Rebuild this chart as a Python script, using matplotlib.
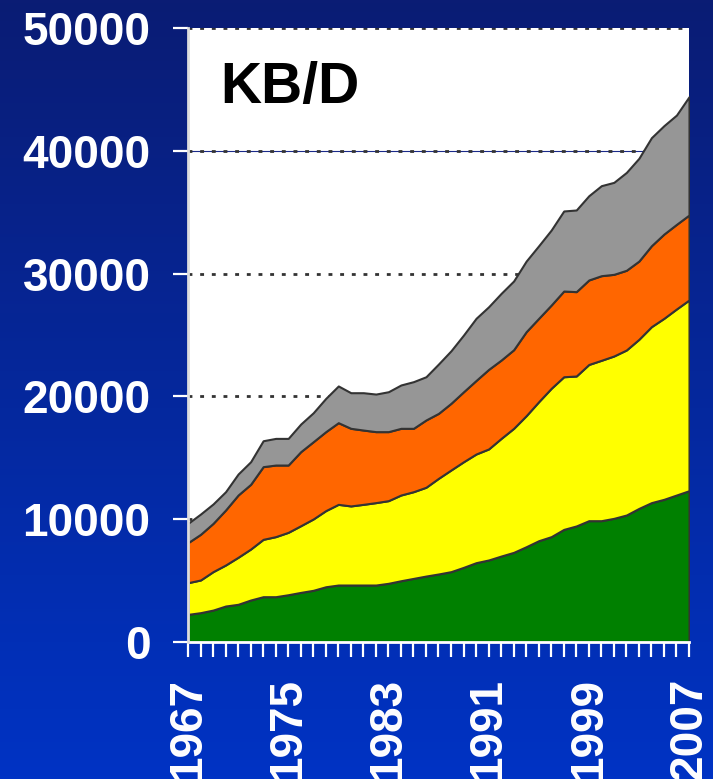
import numpy as np
import matplotlib.pyplot as plt

years = list(range(1967, 2008))

green = [2250, 2390, 2600, 2930, 3070, 3420, 3690, 3690, 3850, 4040,
         4210, 4500, 4640, 4640, 4640, 4640, 4780, 4990, 5180, 5370,
         5540, 5730, 6080, 6460, 6680, 7000, 7300, 7760, 8250, 8580,
         9170, 9450, 9880, 9880, 10070, 10340, 10880, 11350, 11620, 11970,
         12320]
yellow = [2580, 2660, 3130, 3340, 3830, 4150, 4670, 4890, 5080, 5430,
          5810, 6200, 6570, 6440, 6570, 6710, 6730, 6980, 7060, 7230,
          7790, 8280, 8600, 8850, 9040, 9580, 10100, 10670, 11320, 12080,
          12430, 12210, 12720, 13060, 13220, 13440, 13770, 14330, 14740, 15150,
          15530]
orange = [3260, 3720, 3930, 4480, 5070, 5270, 5920, 5830, 5480, 6030,
          6290, 6430, 6650, 6320, 6050, 5780, 5620, 5430, 5160, 5480,
          5290, 5430, 5700, 5990, 6480, 6380, 6400, 6840, 6790, 6780,
          6980, 6870, 6880, 6890, 6650, 6490, 6370, 6590, 6860, 6890,
          6920]
gray = [1570, 1650, 1580, 1490, 1710, 1840, 2110, 2170, 2170, 2250,
        2360, 2710, 2990, 2900, 3040, 3060, 3250, 3530, 3800, 3520,
        4020, 4280, 4620, 5060, 5100, 5430, 5600, 5750, 5910, 6110,
        6520, 6650, 6860, 7330, 7490, 7970, 8370, 8800, 8830, 8900,
        9630]

y_ticks = [0, 10000, 20000, 30000, 40000, 50000]
x_labels = [1967, 1975, 1983, 1991, 1999, 2007]

plt.rcParams['font.family'] = ['Liberation Sans', 'DejaVu Sans']

fig = plt.figure(figsize=(7.13, 7.79), dpi=100)

# background gradient
bg = fig.add_axes([0, 0, 1, 1], zorder=-10)
grad = np.linspace(0, 1, 256).reshape(-1, 1)
top_c = np.array([0x0a, 0x1c, 0x74]) / 255
bot_c = np.array([0x00, 0x33, 0xc4]) / 255
img = top_c + (bot_c - top_c) * grad[:, :, None]
bg.imshow(img, aspect='auto', extent=[0, 1, 0, 1], origin='upper')
bg.axis('off')

ax = fig.add_axes([188 / 713, 137 / 779, 501 / 713, 614 / 779])
ax.set_facecolor('white')

ax.axhline(40000, color='#1a2a8a', lw=0.8, zorder=0)
for t in y_ticks[1:]:
    ax.axhline(t, color='#333333', lw=2.0, linestyle=(0, (1.4, 2.8)), zorder=0)

ax.stackplot(years, green, yellow, orange, gray,
             colors=['#008000', '#ffff00', '#ff6600', '#969696'],
             edgecolor='#333333', linewidth=1.5, zorder=2)

ax.set_xlim(1967, 2007)
ax.set_ylim(0, 50000)

ax.set_yticks(y_ticks)
ax.set_yticklabels([str(t) for t in y_ticks])
ax.set_xticks(years, minor=True)
ax.set_xticks(x_labels)
ax.set_xticklabels([str(x) for x in x_labels], rotation=90, va='top')

ax.tick_params(axis='both', which='both', colors='white', width=1.6, length=11,
               labelsize=33)
ax.tick_params(axis='y', pad=16)
ax.tick_params(axis='x', pad=15)
for lbl in ax.get_xticklabels() + ax.get_yticklabels():
    lbl.set_fontweight('bold')
    lbl.set_color('white')

for s in ['top', 'right']:
    ax.spines[s].set_visible(False)
ax.spines['left'].set_color('#dddddd')
ax.spines['left'].set_linewidth(2)
ax.spines['bottom'].set_color('white')
ax.spines['bottom'].set_linewidth(2)
ax.spines['left'].set_zorder(3)

ax.text(0.064, 0.878, 'KB/D', transform=ax.transAxes, fontsize=41,
        fontweight='bold', color='black', va='baseline', ha='left', zorder=5)

fig.savefig('out.png', dpi=100)
